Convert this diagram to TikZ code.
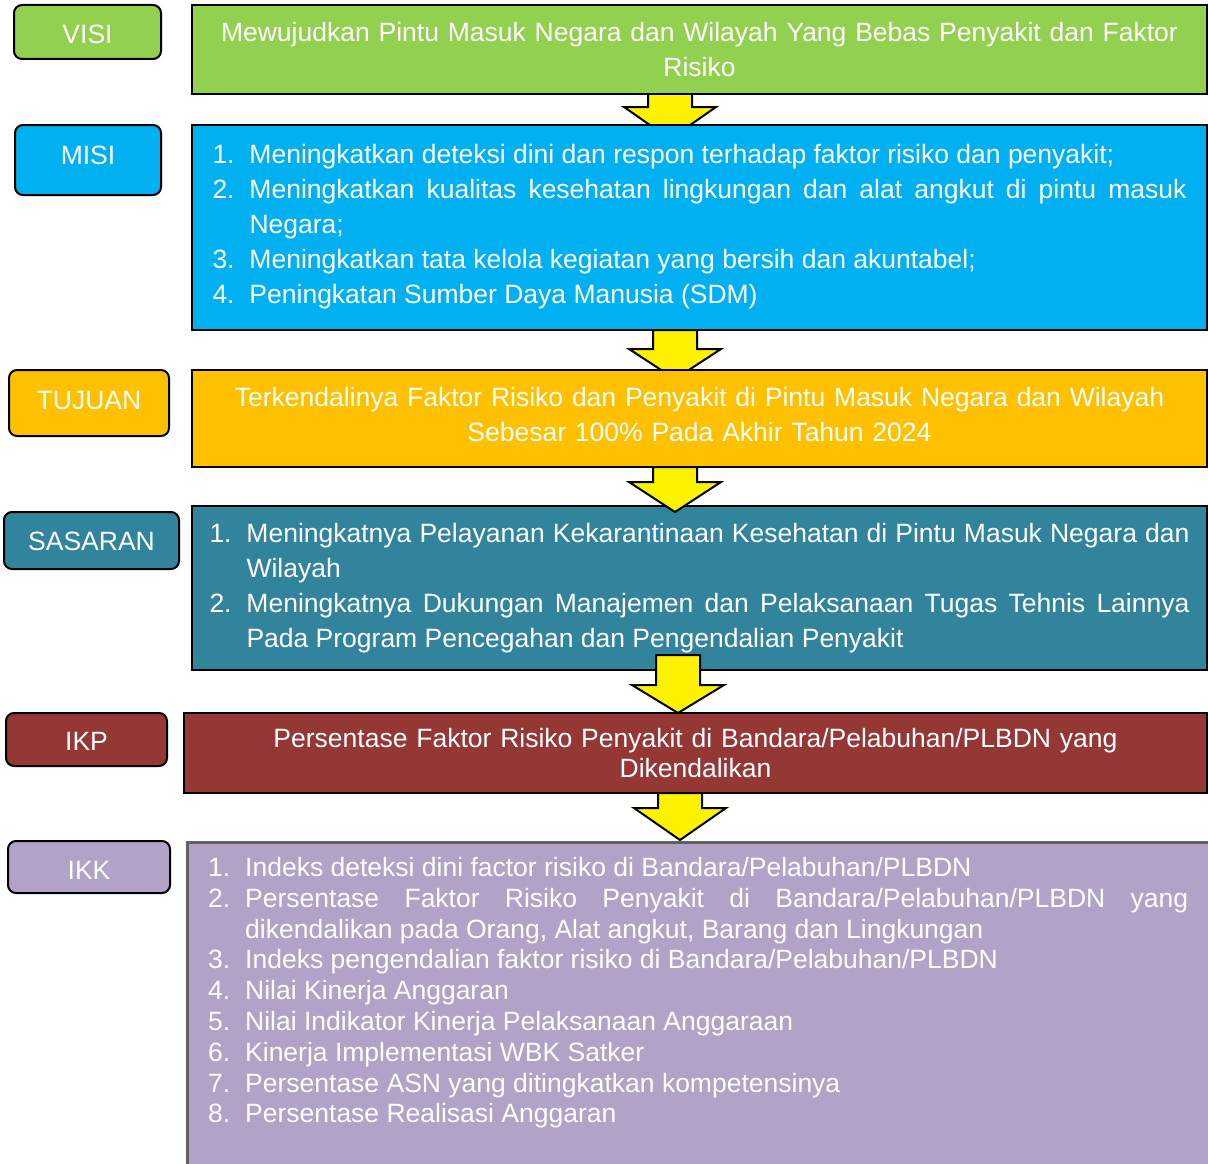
\documentclass[tikz,border=0pt]{standalone}
\usepackage{fontspec}
\setmainfont{Liberation Sans}
\usepackage{tikz}
\usetikzlibrary{positioning}

\definecolor{visigreen}{HTML}{92D050}
\definecolor{misiblue}{HTML}{00B0F0}
\definecolor{tujuanorange}{HTML}{FFC000}
\definecolor{sasaranteal}{HTML}{31849B}
\definecolor{ikpred}{HTML}{953735}
\definecolor{ikkpurple}{HTML}{B2A2C7}
\definecolor{ikkgray}{HTML}{606060}

\hyphenpenalty=10000
\exhyphenpenalty=10000

\tikzset{tagbox/.style = {draw, line width=2pt, rounded corners=8pt, fill=#1, text=white,
                          font=\fontsize{26.5}{30}\selectfont, inner sep=0pt},
         mainbox/.style = {draw, line width=2pt, fill=#1, text=white, inner ysep=0pt,
                           font=\fontsize{26.5}{35}\selectfont},
         yarrow/.style = {draw, line width=2pt, fill=yellow, line join=miter}}

% tag text moved off the centre line
\newcommand\tagtxt[2]{\raisebox{#1}[0pt][0pt]{#2}}
% numbered line with hanging indent
\newcommand\litem[2]{\hangindent=37pt\hangafter=1\noindent\makebox[37pt][l]{#1}#2\par}
% yellow block arrow: centre x, top, neck, tip
\newcommand\yarrow[4]{\draw[yarrow] ({#1-22},#2) -- ({#1-22},#3) -- ({#1-46},#3) -- (#1,#4)
                        -- ({#1+46},#3) -- ({#1+22},#3) -- ({#1+22},#2) -- cycle;}

\begin{document}
\begin{tikzpicture}[x=1pt,y=-1pt]
    \useasboundingbox (0,0) rectangle (1208,1164);

    % arrows lying under the next box
    \yarrow{670}{94}{107}{139}
    \yarrow{675}{330}{349}{379}

    % left tags
    \node[tagbox=visigreen, minimum width=147, minimum height=54] (visitag) at (87.5,32) {\tagtxt{-11.5pt}{VISI}};
    \node[tagbox=misiblue, minimum width=146, minimum height=70] (misitag) at (88,160) {\tagtxt{-4.5pt}{MISI}};
    \node[tagbox=tujuanorange, minimum width=160, minimum height=66] (tujuantag) at (89,403) {\tagtxt{-6.5pt}{TUJUAN}};
    \node[tagbox=sasaranteal, minimum width=175, minimum height=57] (sasarantag) at (91.5,540.5) {\tagtxt{-10pt}{SASARAN}};
    \node[tagbox=ikpred, minimum width=161, minimum height=53] (ikptag) at (86.5,739.5) {\tagtxt{-11pt}{IKP}};
    \node[tagbox=ikkpurple, minimum width=162, minimum height=52] (ikktag) at (89,867) {\tagtxt{-12.5pt}{IKK}};

    % main boxes
    \node[mainbox=visigreen, minimum width=1015, minimum height=89, text width=975, inner xsep=20, align=center]
        (visi) at (699.5,49.5) {Mewujudkan Pintu Masuk Negara dan Wilayah Yang Bebas Penyakit dan Faktor\\Risiko};
    \node[mainbox=misiblue, minimum width=1015, minimum height=205, text width=974, inner xsep=20.5, align=justify]
        (misi) at (699.5,227.5) {%
        \litem{1.}{Meningkatkan deteksi dini dan respon terhadap faktor risiko dan penyakit;}
        \litem{2.}{Meningkatkan kualitas kesehatan lingkungan dan alat angkut di pintu masuk Negara;}
        \litem{3.}{Meningkatkan tata kelola kegiatan yang bersih dan akuntabel;}
        \litem{4.}{Peningkatan Sumber Daya Manusia (SDM)}\vspace*{2pt}};
    \node[mainbox=tujuanorange, minimum width=1015, minimum height=97, text width=975, inner xsep=20, align=center]
        (tujuan) at (699.5,418.5) {Terkendalinya Faktor Risiko dan Penyakit di Pintu Masuk Negara dan Wilayah\\Sebesar 100\% Pada Akhir Tahun 2024\par\vspace*{8pt}};
    \node[mainbox=sasaranteal, minimum width=1015, minimum height=164, text width=980, inner xsep=17.5, align=justify]
        (sasaran) at (699.5,588) {%
        \litem{1.}{Meningkatnya Pelayanan Kekarantinaan Kesehatan di Pintu Masuk Negara dan Wilayah}
        \litem{2.}{Meningkatnya Dukungan Manajemen dan Pelaksanaan Tugas Tehnis Lainnya Pada Program Pencegahan dan Pengendalian Penyakit}};
    \node[mainbox=ikpred, minimum width=1023, minimum height=80, text width=983, inner xsep=20, align=center,
          font=\fontsize{26.5}{30}\selectfont]
        (ikp) at (695.5,753) {Persentase Faktor Risiko Penyakit di Bandara/Pelabuhan/PLBDN yang\\Dikendalikan};
    \node[draw=ikkgray, line width=2.5pt, fill=ikkpurple, anchor=north west, minimum width=1022, minimum height=400]
        (ikk) at (186,841) {};
    \node[text=white, anchor=north west, inner sep=0pt, text width=980, align=justify,
          font=\fontsize{26.5}{30.8}\selectfont]
        (ikktext) [below right=16pt and 22pt of ikk.north west] {%
        \litem{1.}{Indeks deteksi dini factor risiko di Bandara/Pelabuhan/PLBDN}
        \litem{2.}{Persentase Faktor Risiko Penyakit di Bandara/Pelabuhan/PLBDN yang dikendalikan pada Orang, Alat angkut, Barang dan Lingkungan}
        \litem{3.}{Indeks pengendalian faktor risiko di Bandara/Pelabuhan/PLBDN}
        \litem{4.}{Nilai Kinerja Anggaran}
        \litem{5.}{Nilai Indikator Kinerja Pelaksanaan Anggaraan}
        \litem{6.}{Kinerja Implementasi WBK Satker}
        \litem{7.}{Persentase ASN yang ditingkatkan kompetensinya}
        \litem{8.}{Persentase Realisasi Anggaran}};

    % arrows lying over the boxes
    \yarrow{675}{467}{482}{512}
    \yarrow{678}{655}{685}{713}
    \yarrow{680}{793}{808}{840}

\end{tikzpicture}
\end{document}
